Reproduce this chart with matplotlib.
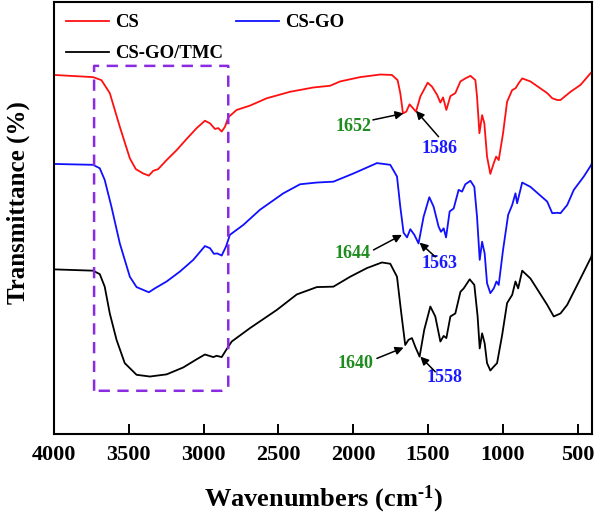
import matplotlib
matplotlib.use("Agg")
from matplotlib import pyplot as plt
import numpy as np

plt.rcParams['font.family'] = ['Liberation Serif', 'DejaVu Serif']
plt.rcParams['font.weight'] = 'bold'
plt.rcParams['mathtext.fontset'] = 'custom'
plt.rcParams['mathtext.rm'] = 'Liberation Serif:bold'
plt.rcParams['mathtext.bf'] = 'Liberation Serif:bold'
plt.rcParams['mathtext.it'] = 'Liberation Serif:bold'

# FTIR spectra (wavenumber in cm-1, transmittance in a.u.)
cs_wn = [4000, 3739, 3683, 3627, 3560, 3493, 3453, 3404, 3366, 3337, 3304, 3247, 3180, 3113,
         3046, 2991, 2957, 2924, 2902, 2879, 2857, 2835, 2779, 2690, 2578, 2422, 2266, 2154,
         2087, 1953, 1819, 1741, 1703, 1685, 1667, 1645, 1623, 1600, 1580, 1551, 1502, 1473,
         1439, 1417, 1399, 1377, 1350, 1317, 1283, 1250, 1216, 1183, 1172, 1156, 1138, 1123,
         1105, 1083, 1060, 1044, 1027, 998, 971, 937, 915, 893, 870, 815, 703, 669, 636, 614,
         547, 480, 413, 400]
cs_t = [83.1, 82.6, 81.9, 78.9, 71.1, 63.8, 61.3, 60.3, 59.8, 60.9, 61.3, 63.4, 65.7, 68.3,
        70.8, 72.5, 71.9, 70.6, 70.8, 70.0, 71.1, 73.3, 75.0, 76.0, 77.7, 79.2, 80.2, 80.6,
        81.6, 82.6, 83.2, 83.1, 81.9, 78.9, 74.2, 74.6, 76.3, 75.4, 74.6, 78.1, 81.3, 80.4,
        78.5, 76.7, 77.9, 75.0, 78.2, 78.9, 81.6, 82.3, 82.9, 81.9, 78.1, 69.6, 73.8, 71.9,
        64.2, 60.2, 62.7, 64.2, 63.4, 69.6, 76.9, 79.6, 80.0, 81.2, 82.3, 81.6, 78.9, 77.7, 77.3, 77.3,
        79.2, 80.8, 83.5, 84.0]

csgo_wn = [4000, 3739, 3694, 3661, 3616, 3560, 3493, 3448, 3366, 3326, 3247, 3158, 3069, 2991,
           2957, 2931, 2909, 2879, 2850, 2824, 2734, 2623, 2467, 2355, 2243, 2132, 1998, 1841,
           1752, 1707, 1685, 1663, 1640, 1618, 1591, 1563, 1529, 1491, 1462, 1429, 1413, 1395,
           1379, 1355, 1328, 1295, 1272, 1250, 1216, 1190, 1172, 1154, 1138, 1121, 1105, 1083,
           1060, 1042, 1027, 998, 964, 937, 915, 904, 870, 815, 703, 669, 636, 614, 569, 525,
           458, 408, 400]
csgo_t = [62.5, 62.3, 61.5, 58.8, 52.6, 44.1, 36.4, 34.0, 32.8, 33.7, 35.3, 37.6, 40.3, 43.5,
          43.0, 41.7, 41.8, 41.3, 43.4, 46.1, 48.4, 51.9, 55.7, 57.8, 58.2, 58.4, 60.3, 62.7,
          62.3, 59.6, 52.6, 46.6, 45.5, 47.4, 46.1, 44.1, 50.3, 54.8, 52.6, 48.0, 46.8, 47.6,
          45.5, 51.5, 52.2, 56.5, 56.1, 57.8, 58.6, 57.2, 50.3, 40.3, 44.5, 41.8, 34.9, 32.6,
          33.7, 35.3, 34.5, 42.6, 50.7, 53.0, 55.7, 53.4, 58.2, 57.2, 53.8, 51.1, 51.2, 51.1, 53.0, 56.5,
          59.6, 62.3, 63.2]

tmc_wn = [4000, 3739, 3694, 3661, 3627, 3582, 3527, 3448, 3359, 3247, 3136, 3046, 2991, 2935,
          2913, 2879, 2850, 2812, 2690, 2511, 2377, 2243, 2132, 2020, 1908, 1808, 1752, 1707,
          1681, 1652, 1630, 1607, 1585, 1556, 1525, 1484, 1451, 1417, 1395, 1377, 1350, 1317,
          1283, 1261, 1221, 1190, 1168, 1154, 1138, 1121, 1105, 1083, 1060, 1038, 1004, 971,
          937, 915, 897, 870, 815, 703, 659, 614, 569, 502, 408, 400]
tmc_t = [38.1, 37.8, 37.0, 34.1, 27.9, 21.8, 16.4, 13.7, 13.3, 13.8, 15.4, 17.3, 18.4, 17.8,
         18.1, 17.8, 19.4, 21.4, 24.5, 28.7, 32.3, 34.0, 34.1, 36.4, 38.4, 39.7, 39.4, 36.4,
         28.7, 20.6, 21.8, 22.2, 20.2, 17.9, 24.1, 29.5, 27.2, 21.4, 22.7, 22.2, 27.2, 27.9,
         32.9, 33.7, 35.8, 34.5, 27.2, 19.8, 23.3, 21.0, 16.4, 14.7, 15.6, 16.4, 22.9, 30.3,
         32.2, 35.3, 33.7, 37.8, 36.0, 29.9, 27.2, 27.9, 29.9, 34.5, 41.0, 42.3]

# peak labels: text, colour, text position, arrow tail, arrow head
peak_labels = ['1652', '1586', '1644', '1563', '1640', '1558']
peak_colors = ['#1e8c1e', '#1a1aff', '#1e8c1e', '#1a1aff', '#1e8c1e', '#1a1aff']
peak_text_xy = [(2000, 71.1), (1424, 66.1), (2003, 41.8), (1424, 39.4), (1987, 16.4), (1391, 13.0)]
peak_tail_xy = [(1868, 72.7), (1429, 68.8), (1864, 42.6), (1451, 41.0), (1841, 17.5), (1451, 14.4)]
peak_head_xy = [(1663, 74.2), (1580, 74.8), (1674, 46.1), (1556, 44.3), (1663, 20.0), (1551, 17.9)]

# dashed box round the O-H / N-H band
box_x = [3732, 3732, 2835, 2835, 2879, 3732]
box_y = [10.0, 85.2, 85.2, 10.7, 10.0, 10.0]

fig = plt.figure(figsize=(6, 5.22), dpi=100)
ax = fig.add_axes([0.09, 0.1686, 0.897, 0.8277])

l1, = ax.plot(cs_wn, cs_t, color='#ff1010', lw=1.3, label='CS')
l2, = ax.plot(csgo_wn, csgo_t, color='#1010ff', lw=1.3, label='CS-GO')
l3, = ax.plot(tmc_wn, tmc_t, color='black', lw=1.3, label='CS-GO/TMC')

ax.plot(box_x, box_y, color='#8a2be2', lw=1.8, ls=(0, (4.5, 3)))

for n in range(len(peak_labels)):
    ax.text(peak_text_xy[n][0], peak_text_xy[n][1], peak_labels[n], color=peak_colors[n],
            fontsize=13, fontweight='bold', ha='center', va='center')
    ax.annotate('', xy=peak_head_xy[n], xytext=peak_tail_xy[n],
                arrowprops=dict(arrowstyle='-|>', color='black', lw=1.1,
                                mutation_scale=12, shrinkA=0, shrinkB=0))

ax.set_xlim(4000, 402)
ax.set_ylim(0, 100)
ax.set_xticks([4000, 3500, 3000, 2500, 2000, 1500, 1000, 500])
ax.set_yticks([])
ax.tick_params(axis='x', direction='in', length=7, width=1.4, labelsize=16, pad=8)
for s in ax.spines.values():
    s.set_linewidth(1.5)

ax.set_xlabel('Wavenumbers (cm$^{\u2010\\mathrm{1}}$)', fontsize=19, fontweight='bold', labelpad=13)
ax.set_ylabel('Transmittance (%)', fontsize=18, fontweight='bold')
ax.yaxis.set_label_coords(-0.045, 0.535)

ax.legend([l1, l3, l2], ['CS', 'CS-GO/TMC', 'CS-GO'], ncol=2, loc='upper left',
          frameon=False, fontsize=13.5, handlelength=2.3, columnspacing=0.7,
          borderaxespad=0.0, borderpad=0.65, handletextpad=0.3, labelspacing=0.75)

fig.savefig('out.png', dpi=100)
